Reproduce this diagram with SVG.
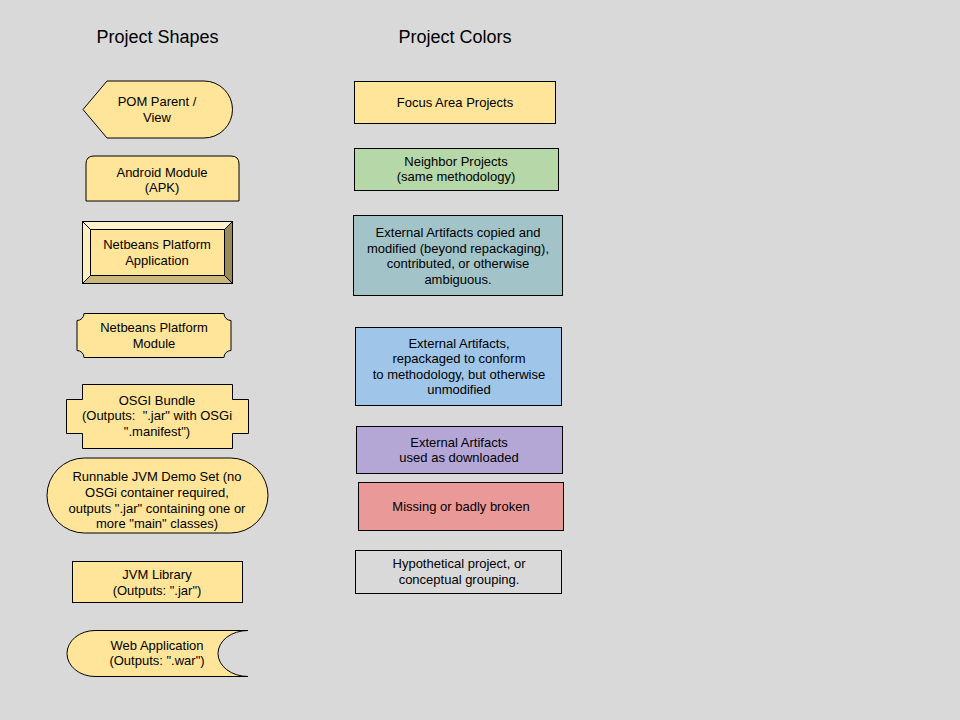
<svg xmlns="http://www.w3.org/2000/svg" width="960" height="720" viewBox="0 0 960 720">
<style>
text{font-family:"Liberation Sans",Arial,sans-serif;font-size:13px;fill:#000;text-anchor:middle;white-space:pre}
.t{font-size:18px}
.s{stroke:#000;stroke-width:1}
.y{fill:#ffe599}
</style>
<rect width="960" height="720" fill="#d9d9d9"/>
<g id="titles">
<text class="t" x="157.5" y="43">Project Shapes</text>
<text class="t" x="455" y="43">Project Colors</text>
</g>
<g id="connectors"></g>
<g id="pom">
<path class="s y" d="M83,109.5 L107,81 H204 A28.5,28.5 0 0 1 204,138 H107 Z"/>
<text x="157" y="106">POM Parent /</text>
<text x="157" y="122">View</text>
</g>
<g id="android">
<path class="s y" d="M86,201 V164 Q86,156 94,156 H231 Q239,156 239,164 V201 Z"/>
<text x="162" y="177">Android Module</text>
<text x="162" y="192">(APK)</text>
</g>
<g id="nbapp">
<rect class="y" x="82.5" y="221.5" width="150" height="62"/>
<path d="M82.5,221.5 H232.5 L224.5,229.5 H90.5 Z" fill="#fff2c8"/>
<path d="M82.5,221.5 L90.5,229.5 V275.5 L82.5,283.5 Z" fill="#fff0c0"/>
<path d="M82.5,283.5 L90.5,275.5 H224.5 L232.5,283.5 Z" fill="#ccb77a"/>
<path d="M232.5,221.5 V283.5 L224.5,275.5 V229.5 Z" fill="#998a58"/>
<rect x="82.5" y="221.5" width="150" height="62" fill="none" class="s"/>
<rect x="90.5" y="229.5" width="134" height="46" fill="none" class="s"/>
<path d="M82.5,221.5 L90.5,229.5 M232.5,221.5 L224.5,229.5 M82.5,283.5 L90.5,275.5 M232.5,283.5 L224.5,275.5" class="s" fill="none"/>
<text x="157" y="249">Netbeans Platform</text>
<text x="157" y="265">Application</text>
</g>
<g id="nbmodule">
<path class="s y" d="M84,313.5 H224 A7,7 0 0 0 231,320.5 V350.5 A7,7 0 0 0 224,357.5 H84 A7,7 0 0 0 77,350.5 V320.5 A7,7 0 0 0 84,313.5 Z"/>
<text x="154" y="332">Netbeans Platform</text>
<text x="154" y="348">Module</text>
</g>
<g id="osgi">
<path class="s y" d="M82.5,384.5 H232.5 V399.5 H248.5 V433.5 H232.5 V448.5 H82.5 V433.5 H66.5 V399.5 H82.5 Z"/>
<text x="157" y="405">OSGI Bundle</text>
<text x="157" y="420">(Outputs:  ".jar" with OSGi</text>
<text x="157" y="436">".manifest")</text>
</g>
<g id="runnable">
<rect class="s y" x="47" y="458" width="221" height="75" rx="37.5" ry="37.5"/>
<text x="157" y="481">Runnable JVM Demo Set (no</text>
<text x="157" y="497">OSGi container required,</text>
<text x="157" y="513">outputs ".jar" containing one or</text>
<text x="157" y="528">more "main" classes)</text>
</g>
<g id="jvmlib">
<rect class="s y" x="72.5" y="561.5" width="170" height="41"/>
<text x="157" y="579">JVM Library</text>
<text x="157" y="595">(Outputs: ".jar")</text>
</g>
<g id="webapp">
<path class="s y" d="M95,630.5 H248 A30,23 0 0 0 248,676.5 H95 A28,23 0 0 1 95,630.5 Z"/>
<text x="157" y="650">Web Application</text>
<text x="157" y="665">(Outputs: ".war")</text>
</g>
<g id="focus">
<rect class="s" fill="#ffe599" x="354.5" y="81.5" width="201" height="42"/>
<text x="455" y="107">Focus Area Projects</text>
</g>
<g id="neighbor">
<rect class="s" fill="#b6d7a8" x="354.5" y="148.5" width="204" height="42"/>
<text x="456" y="166">Neighbor Projects</text>
<text x="456" y="181">(same methodology)</text>
</g>
<g id="copied">
<rect class="s" fill="#a2c4c9" x="353.5" y="215.5" width="209" height="80"/>
<text x="458" y="237">External Artifacts copied and</text>
<text x="458" y="253">modified (beyond repackaging),</text>
<text x="458" y="268">contributed, or otherwise</text>
<text x="458" y="284">ambiguous.</text>
</g>
<g id="repackaged">
<rect class="s" fill="#9fc5e8" x="355.5" y="327.5" width="206" height="78"/>
<text x="459" y="348">External Artifacts,</text>
<text x="459" y="363">repackaged to conform</text>
<text x="459" y="379">to methodology, but otherwise</text>
<text x="459" y="394">unmodified</text>
</g>
<g id="downloaded">
<rect class="s" fill="#b4a7d6" x="356.5" y="426.5" width="206" height="47"/>
<text x="459" y="447">External Artifacts</text>
<text x="459" y="462">used as downloaded</text>
</g>
<g id="missing">
<rect class="s" fill="#ea9999" x="358.5" y="482.5" width="205" height="48"/>
<text x="461" y="511">Missing or badly broken</text>
</g>
<g id="hypothetical">
<rect class="s" fill="#d9d9d9" x="355.5" y="550.5" width="206" height="43"/>
<text x="459" y="568">Hypothetical project, or</text>
<text x="459" y="584">conceptual grouping.</text>
</g>
</svg>
